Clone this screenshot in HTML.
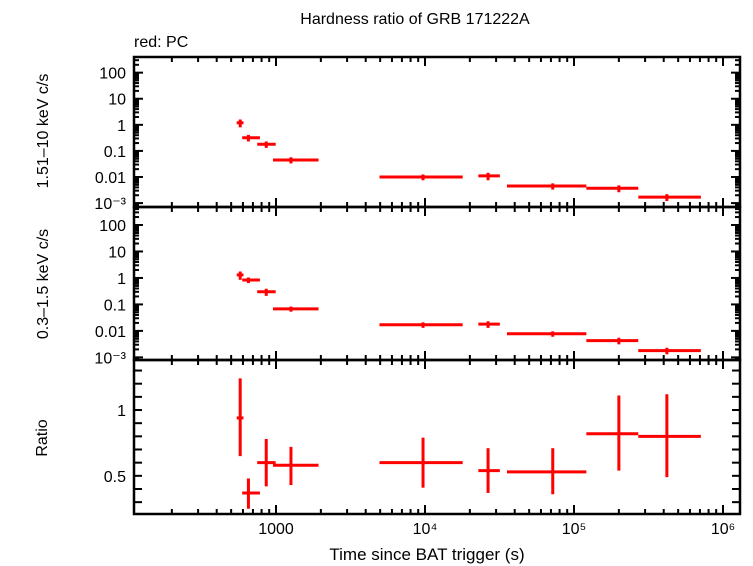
<!DOCTYPE html>
<html><head><meta charset="utf-8"><style>
body{margin:0;background:#fff;}
svg{display:block;font-family:"Liberation Sans",sans-serif;}
</style></head><body>
<svg id="c" width="753" height="566" viewBox="0 0 753 566">
<text x="415" y="24" font-size="16" text-anchor="middle">Hardness ratio of GRB 171222A</text>
<text x="134" y="47" font-size="16">red: PC</text>
<text x="427" y="560" font-size="17" text-anchor="middle">Time since BAT trigger (s)</text>
<text transform="translate(48,131) rotate(-90)" font-size="16" text-anchor="middle">1.51–10 keV c/s</text>
<text transform="translate(48,284) rotate(-90)" font-size="16" text-anchor="middle">0.3–1.5 keV c/s</text>
<text transform="translate(47,438) rotate(-90)" font-size="16" text-anchor="middle">Ratio</text>
<g id="g"></g>
</svg>
<script>
// data
const tLo  = [545, 593, 748, 955, 4950, 22800, 35500, 121000, 270000];
const tMid = [575, 653, 860, 1260, 9700, 26500, 72000, 200000, 420000];
const tHi  = [605, 780, 995, 1930, 17900, 31800, 121000, 270000, 710000];
const hard = [1.2, 0.32, 0.18, 0.045, 0.010, 0.011, 0.0045, 0.0037, 0.0017];
const hardErr = [0.4, 0.09, 0.05, 0.012, 0.0025, 0.0035, 0.0012, 0.0011, 0.0005];
const soft = [1.3, 0.84, 0.30, 0.068, 0.017, 0.018, 0.0078, 0.0043, 0.0018];
const softErr = [0.45, 0.2, 0.09, 0.015, 0.004, 0.005, 0.0018, 0.0012, 0.0005];
const ratio = [0.94, 0.37, 0.60, 0.58, 0.60, 0.54, 0.53, 0.82, 0.80];
const ratioLo = [0.65, 0.25, 0.42, 0.43, 0.41, 0.37, 0.36, 0.54, 0.49];
const ratioHi = [1.24, 0.48, 0.78, 0.72, 0.79, 0.71, 0.71, 1.11, 1.12];
const logYLabels = ["100","10","1","0.1","0.01","10\u207B\u00B3"];
const logYVals = [100,10,1,0.1,0.01,0.001];
const ratioLabels = ["1","0.5"];
const ratioLabelVals = [1,0.5];
const xLabels = ["1000","10\u2074","10\u2075","10\u2076"];
const xLabelVals = [1e3,1e4,1e5,1e6];

const NS="http://www.w3.org/2000/svg";
const G=document.getElementById('g');
function el(tag,a,p){const e=document.createElementNS(NS,tag);for(const k in a)e.setAttribute(k,a[k]);(p||G).appendChild(e);return e;}
const X0=134,X1=740,LX0=2.047,LX1=6.114;
const xs=t=>X0+(Math.log10(t)-LX0)/(LX1-LX0)*(X1-X0);
const panels=[
 {top:57,bot:207,l0:2.6,l1:-3.15,log:true,v:hard,e:hardErr,n:'hard'},
 {top:207,bot:360,l0:2.68,l1:-3.1,log:true,v:soft,e:softErr,n:'soft'},
 {top:360,bot:514,l0:1.38,l1:0.21,log:false,n:'ratio'}];
panels.forEach(P=>{
 P.y=v=>P.log?P.top+(P.l0-Math.log10(v))/(P.l0-P.l1)*(P.bot-P.top):P.top+(P.l0-v)/(P.l0-P.l1)*(P.bot-P.top);
 for(let d=2;d<=6;d++)for(let m=1;m<10;m++){const t=m*Math.pow(10,d);const x=xs(t);if(x<X0+1||x>X1-1)continue;const L=m===1?9:5;
  const a=el('line',{x1:x,x2:x,y1:P.bot,y2:P.bot-L,stroke:'#000','stroke-width':2});
  
  const b=el('line',{x1:x,x2:x,y1:P.top,y2:P.top+L,stroke:'#000','stroke-width':2});
  }
 if(P.log){for(let d=-4;d<=3;d++)for(let m=1;m<10;m++){const v=m*Math.pow(10,d);const y=P.y(v);if(y<P.top+1||y>P.bot-1)continue;const L=m===1?9:5;
   const a=el('line',{x1:X0,x2:X0+L,y1:y,y2:y,stroke:'#000','stroke-width':2});
   
   const b=el('line',{x1:X1,x2:X1-L,y1:y,y2:y,stroke:'#000','stroke-width':2});
   }
  logYVals.forEach((v,i)=>{const t=el('text',{x:X0-8,y:P.y(v)+6,'font-size':16,'text-anchor':'end'});t.textContent=logYLabels[i];
   });
 } else {
  for(let k=3;k<=13;k++){const v=k/10;const y=P.y(v);
   const a=el('line',{x1:X0,x2:X0+8,y1:y,y2:y,stroke:'#000','stroke-width':2});
   
   const b=el('line',{x1:X1,x2:X1-8,y1:y,y2:y,stroke:'#000','stroke-width':2});
   }
  ratioLabelVals.forEach((v,i)=>{const t=el('text',{x:X0-8,y:P.y(v)+6,'font-size':16,'text-anchor':'end'});t.textContent=ratioLabels[i];
   });
 }
 const r=el('rect',{x:X0,y:P.top,width:X1-X0,height:P.bot-P.top,fill:'none',stroke:'#000','stroke-width':2.5});
 
 for(let i=0;i<tMid.length;i++){
  let v,lo,hi;
  if(P.log){v=P.v[i];lo=v-P.e[i];hi=v+P.e[i];}else{v=ratio[i];lo=ratioLo[i];hi=ratioHi[i];}
  const y=P.y(v);
  const h=el('line',{x1:xs(tLo[i]),x2:xs(tHi[i]),y1:y,y2:y,stroke:'#f00','stroke-width':3});
  
  const vv=el('line',{x1:xs(tMid[i]),x2:xs(tMid[i]),y1:P.y(lo),y2:P.y(hi),stroke:'#f00','stroke-width':3});
  
 }
});
xLabelVals.forEach((v,i)=>{const t=el('text',{x:xs(v),y:534,'font-size':16,'text-anchor':'middle'});t.textContent=xLabels[i];
 });
</script>
</body></html>
